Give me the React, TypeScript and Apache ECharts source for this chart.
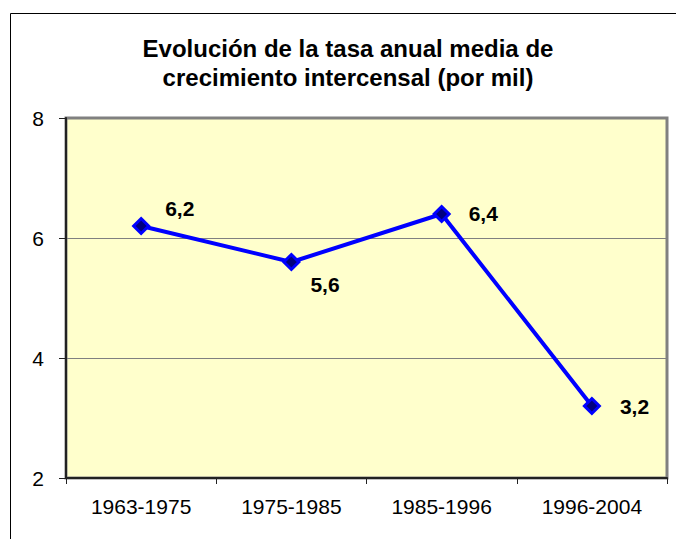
import React, { useEffect, useRef } from "react";
import * as echarts from "echarts";

const categories = ["1963-1975", "1975-1985", "1985-1996", "1996-2004"];
const values = [6.2, 5.6, 6.4, 3.2];
const labelOffsets = [[10, -18], [5, 22], [13, -1], [14, 0]];
const titleLines = ["Evolución de la tasa anual media de", "crecimiento intercensal (por mil)"];

export default function App() {
  const ref = useRef<HTMLDivElement>(null);
  useEffect(() => {
    const chart = echarts.init(ref.current!, null, { renderer: "svg" });
    const font = "Arial, 'Liberation Sans', sans-serif";
    chart.setOption({
      animation: false,
      textStyle: { fontFamily: font },
      graphic: [
        {
          type: "rect",
          shape: { x: 10.5, y: 13.5, width: 700, height: 600 },
          style: { fill: "none", stroke: "#000", lineWidth: 1 },
          z: -10,
        },
        {
          type: "text",
          x: 348,
          y: 48,
          style: {
            text: titleLines[0],
            font: "bold 24px " + font,
            fill: "#000",
            textAlign: "center",
            textVerticalAlign: "middle",
          },
        },
        {
          type: "text",
          x: 348,
          y: 77,
          style: {
            text: titleLines[1],
            font: "bold 24px " + font,
            fill: "#000",
            textAlign: "center",
            textVerticalAlign: "middle",
          },
        },
      ],
      grid: {
        left: 66,
        top: 118,
        width: 601,
        height: 360,
        show: true,
        backgroundColor: "#FFFFCC",
        borderColor: "#808080",
        borderWidth: 3,
      },
      xAxis: {
        type: "category",
        data: categories,
        boundaryGap: true,
        axisLine: { show: true, lineStyle: { color: "#222", width: 2 } },
        axisTick: { show: true, inside: false, length: 6, alignWithLabel: false, lineStyle: { color: "#222" } },
        axisLabel: { color: "#000", fontSize: 21, margin: 18, fontFamily: font },
        splitLine: { show: false },
      },
      yAxis: {
        type: "value",
        min: 2,
        max: 8,
        interval: 2,
        axisLine: { show: true, lineStyle: { color: "#222", width: 2 } },
        axisTick: { show: true, inside: false, length: 7, lineStyle: { color: "#222" } },
        axisLabel: { color: "#000", fontSize: 21, margin: 22, fontFamily: font },
        splitLine: { show: true, lineStyle: { color: "#808080", width: 1 } },
      },
      series: [
        {
          type: "line",
          data: values.map((v, i) => ({
            value: v,
            label: {
              show: true,
              position: "right",
              offset: labelOffsets[i],
            },
          })),
          lineStyle: { color: "#0000FF", width: 4 },
          itemStyle: { color: "#000080", borderColor: "#0000FF", borderWidth: 3 },
          symbol: "diamond",
          symbolSize: 15,
          label: {
            show: true,
            formatter: (p: any) => String(p.value).replace(".", ","),
            fontSize: 21,
            fontWeight: "bold",
            color: "#000",
            fontFamily: font,
          },
        },
      ],
    });
    return () => chart.dispose();
  }, []);
  return (
    <div
      ref={ref}
      style={{ position: "fixed", left: 0, top: 0, width: 676, height: 539, background: "#fff" }}
    />
  );
}
